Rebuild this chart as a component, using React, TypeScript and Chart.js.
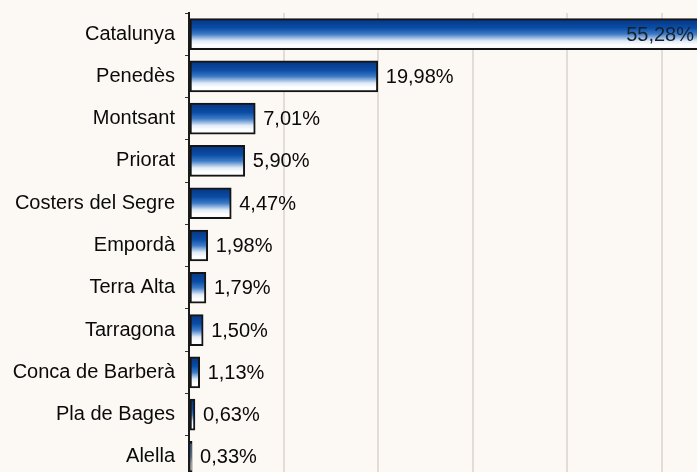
import React, { useEffect, useRef } from "react";
import { Chart, registerables } from "chart.js";

Chart.register(...registerables);

const categories = [
  "Catalunya",
  "Penedès",
  "Montsant",
  "Priorat",
  "Costers del Segre",
  "Empordà",
  "Terra Alta",
  "Tarragona",
  "Conca de Barberà",
  "Pla de Bages",
  "Alella",
];
const values = [55.28, 19.98, 7.01, 5.9, 4.47, 1.98, 1.79, 1.5, 1.13, 0.63, 0.33];
const xMax = 60;
const xStep = 10;

const VISIBLE_W = 697;
const FONT = '"Liberation Sans", Arial, sans-serif';

const fmt = (v: number) => v.toFixed(2).replace(".", ",") + "%";

const valueLabels = {
  id: "valueLabels",
  afterDatasetsDraw(chart: any) {
    const ctx = chart.ctx;
    const meta = chart.getDatasetMeta(0);
    ctx.save();
    ctx.font = `20px ${FONT}`;
    ctx.textBaseline = "middle";
    meta.data.forEach((el: any, i: number) => {
      const txt = fmt(values[i]);
      const w = ctx.measureText(txt).width;
      if (el.x + 8 + w > VISIBLE_W) {
        ctx.textAlign = "right";
        ctx.fillStyle = "#18202c";
        ctx.fillText(txt, VISIBLE_W - 3, el.y + 1);
      } else {
        ctx.textAlign = "left";
        ctx.fillStyle = "#0a0a0a";
        ctx.fillText(txt, el.x + 8, el.y + 1);
      }
    });
    ctx.restore();
  },
};

export default function App() {
  const ref = useRef<HTMLCanvasElement>(null);

  useEffect(() => {
    if (!ref.current) return;
    const BAR = 31;
    const chart = new Chart(ref.current, {
      type: "bar",
      data: {
        labels: categories,
        datasets: [
          {
            data: values,
            barThickness: BAR,
            borderColor: "#141414",
            borderWidth: 2,
            borderSkipped: false,
            backgroundColor: (context: any) => {
              const ch = context.chart;
              const ys = ch.scales && ch.scales.y;
              if (!ys || context.dataIndex === undefined) return "#1c5bb0";
              const cy = ys.getPixelForValue(context.dataIndex);
              if (!Number.isFinite(cy)) return "#1c5bb0";
              const g = ch.ctx.createLinearGradient(0, cy - BAR / 2, 0, cy + BAR / 2);
              g.addColorStop(0, "#06347f");
              g.addColorStop(0.3, "#0a4da6");
              g.addColorStop(0.5, "#3d7bc6");
              g.addColorStop(0.72, "#e2ebf7");
              g.addColorStop(0.86, "#ffffff");
              g.addColorStop(1, "#f2f6fc");
              return g;
            },
          },
        ],
      },
      options: {
        indexAxis: "y",
        responsive: false,
        animation: false,
        devicePixelRatio: 1,
        layout: { padding: { top: 13, right: 0, bottom: 0, left: 0 } },
        plugins: {
          legend: { display: false },
          tooltip: { enabled: false },
        },
        scales: {
          x: {
            min: 0,
            max: xMax,
            ticks: { display: false, stepSize: xStep },
            grid: { color: "#e4ddd7", lineWidth: 2, drawTicks: false },
            border: { display: false },
            afterFit: (s: any) => {
              s.height = 0;
              s.paddingLeft = 0;
              s.paddingRight = 0;
            },
          },
          y: {
            ticks: {
              color: "#0a0a0a",
              font: { family: FONT, size: 20 },
              padding: 10,
            },
            grid: {
              drawOnChartArea: false,
              drawTicks: true,
              tickLength: 4,
              color: "#333",
              lineWidth: 1,
            },
            border: { display: true, color: "#1a1a1a", width: 2 },
            afterFit: (s: any) => {
              s.width = 189;
              s.paddingTop = 0;
              s.paddingBottom = 0;
            },
          },
        },
      },
      plugins: [valueLabels],
    });
    return () => chart.destroy();
  }, []);

  return (
    <div
      style={{
        position: "fixed",
        left: 0,
        top: 0,
        width: 697,
        height: 472,
        overflow: "hidden",
        background: "#fcf8f4",
      }}
    >
      <canvas ref={ref} width={756} height={478} style={{ display: "block" }} />
    </div>
  );
}
